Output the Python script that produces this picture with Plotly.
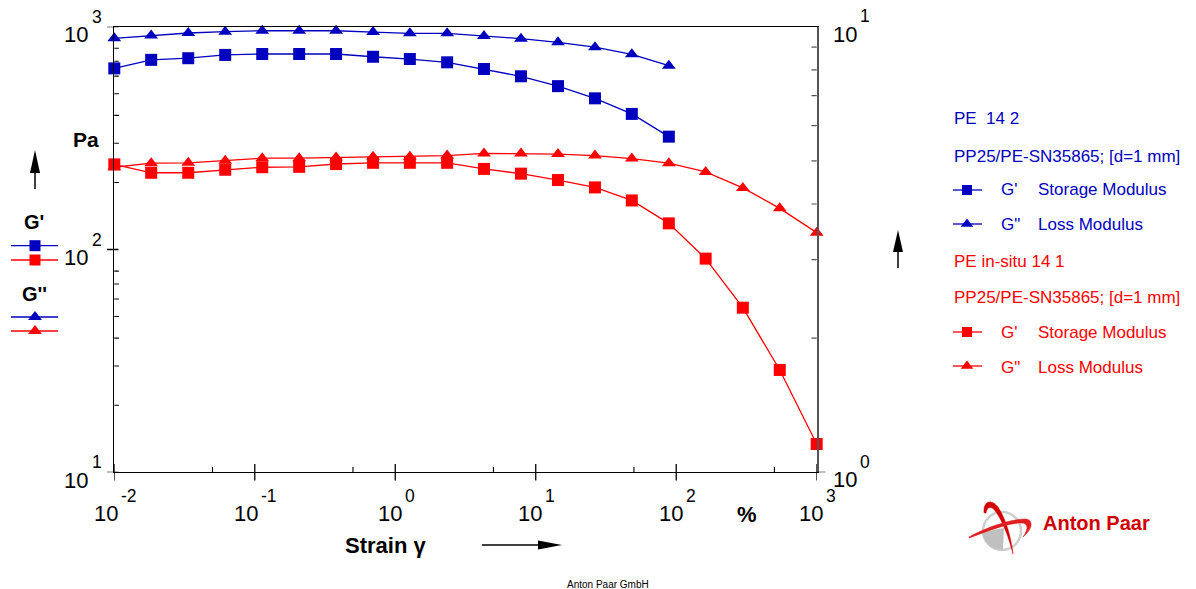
import math
import plotly.graph_objects as go

# ---------------- data ----------------
strain = [0.01, 0.0183, 0.0336, 0.0616, 0.113, 0.207, 0.379, 0.695, 1.27, 2.34,
          4.28, 7.85, 14.4, 26.4, 48.3, 88.6, 162, 298, 546, 1000]
blue_storage = [650, 710, 722, 747, 754, 754, 754, 733, 716, 692, 646, 599, 541, 477, 406, 321]
blue_loss = [887, 912, 937, 950, 959, 959, 959, 946, 934, 934, 908, 884, 851, 809, 752, 668]
red_storage = [241, 221, 221, 228, 234, 235, 242, 245, 245, 245, 230, 219, 205, 190, 166,
               131, 91, 54.8, 28.8, 13.4]
red_loss = [234, 244, 245, 250, 257, 257, 259, 261, 261, 264, 270, 270, 268, 264, 256,
            244, 223, 189, 153, 119]

x_decades = [-2, -1, 0, 1, 2, 3]
y_decades = [1, 2, 3]
y2_decades = [0, 1]
x_major = [0.01, 0.1, 1, 10, 100, 1000]
x_minor = [0.05, 0.5, 5, 50, 500]
y_major = [10, 100, 1000]
y_minor = [20, 30, 40, 50, 60, 70, 80, 200, 300, 400, 500, 600, 700, 800]
y2_major = [1]
y2_minor = [2, 3, 4, 5, 6, 7, 8, 9]

BLUE = "#0000bf"
RED = "#ff0000"
FONT = "Liberation Sans, Arial, sans-serif"
W, H = 1196, 589

def px(x):
    return x / W

def py(y):
    return 1 - y / H

L, R, T, B = 114.3, 816.7, 26.7, 472.3

fig = go.Figure()

def series(y, color, symbol, size, name):
    fig.add_trace(go.Scatter(
        x=strain[:len(y)], y=y, mode="lines+markers", name=name,
        line=dict(color=color, width=1.3),
        marker=dict(symbol=symbol, size=size, color=color, line=dict(width=0)),
        cliponaxis=False, showlegend=False))

series(red_loss, RED, "triangle-up", 12, "PE in-situ G''")
series(red_storage, RED, "square", 12, "PE in-situ G'")
series(blue_loss, BLUE, "triangle-up", 12, "PE G''")
series(blue_storage, BLUE, "square", 12, "PE G'")

# dummy trace so the right axis exists
fig.add_trace(go.Scatter(x=[None], y=[None], xaxis="x", yaxis="y2",
                         showlegend=False, hoverinfo="skip"))

# ---------- legend keys on a full-figure decoration axis ----------
def key(xc, yc, x0, x1, color, symbol, size):
    fig.add_trace(go.Scatter(x=[x0, x1], y=[yc, yc], mode="lines", xaxis="x3", yaxis="y3",
                             line=dict(color=color, width=1.3), showlegend=False, hoverinfo="skip"))
    fig.add_trace(go.Scatter(x=[xc], y=[yc], mode="markers", xaxis="x3", yaxis="y3",
                             marker=dict(symbol=symbol, size=size, color=color, line=dict(width=0)),
                             showlegend=False, hoverinfo="skip", cliponaxis=False))

key(35, 245.7, 11, 58, BLUE, "square", 11)
key(35, 260, 11, 58, RED, "square", 11)
key(35, 317, 11, 58, BLUE, "triangle-up", 12)
key(35, 331, 11, 58, RED, "triangle-up", 12)

key(967, 190, 953, 982, BLUE, "square", 10)
key(967, 224, 953, 982, BLUE, "triangle-up", 11)
key(967, 332, 953, 982, RED, "square", 10)
key(967, 366, 953, 982, RED, "triangle-up", 11)

ann = []

def text(x, y, s, size, color="black", bold=False, xanchor="left", xref="paper", yref="paper",
         xshift=0, yshift=0, family=FONT):
    if bold:
        s = "<b>" + s + "</b>"
    ann.append(dict(x=x, y=y, xref=xref, yref=yref, text=s, showarrow=False,
                    xanchor=xanchor, yanchor="middle", xshift=xshift, yshift=yshift,
                    borderpad=0,
                    font=dict(size=size, color=color, family=family)))

# ---------- tick labels ----------
BASE = 22
EXP = 17.5
for d in x_decades:
    e = str(d)
    wexp = 9.7 * len(e.replace("-", "")) + (6 if d < 0 else 0)
    wtot = 24.5 + 3 + wexp
    text(d, py(513), "10", BASE, xref="x", xanchor="left", xshift=-wtot / 2)
    text(d, py(495.5), e, EXP, xref="x", xanchor="left", xshift=-wtot / 2 + 27)

for d in y_decades:
    text(px(89), d, "10", BASE, yref="y", xanchor="right", yshift=-8)
    text(px(91), d, str(d), EXP, yref="y", xanchor="left", yshift=10)

for d in y2_decades:
    text(px(832), d, "10", BASE, yref="y2", xanchor="left", yshift=-7.5)
    text(px(858.5), d, str(d), EXP, yref="y2", xanchor="left", yshift=10.5)

# ---------- axis titles / labels ----------
text(px(86), py(139), "Pa", 21, bold=True, xanchor="center")
text(px(34), py(222), "G'", 20, bold=True, xanchor="center")
text(px(34), py(294), "G''", 20, bold=True, xanchor="center")
text(px(344), py(545), "Strain γ", 22, bold=True, xanchor="left")
text(px(747), py(514), "%", 22, bold=True, xanchor="center")

# ---------- right legend ----------
LS = 17
text(px(953), py(118), "PE  14 2", LS, BLUE)
text(px(953), py(156), "PP25/PE-SN35865; [d=1 mm]", LS, BLUE)
text(px(1000), py(190), "G'", LS, BLUE)
text(px(1037), py(190), "Storage Modulus", LS, BLUE)
text(px(1000), py(225), "G\"", LS, BLUE)
text(px(1037), py(225), "Loss Modulus", LS, BLUE)
text(px(953), py(261), "PE in-situ 14 1", LS, RED)
text(px(953), py(297), "PP25/PE-SN35865; [d=1 mm]", LS, RED)
text(px(1000), py(332), "G'", LS, RED)
text(px(1037), py(332), "Storage Modulus", LS, RED)
text(px(1000), py(367), "G\"", LS, RED)
text(px(1037), py(367), "Loss Modulus", LS, RED)

# ---------- logo text and footer ----------
text(px(1042), py(523), "Anton Paar", 20, "#d00000", bold=True)
text(px(608), py(584), "Anton Paar GmbH", 10, xanchor="center")

# ---------- shapes ----------
shapes = []

def line(x0, y0, x1, y1, color="black", width=1.5, xref="x3", yref="y3"):
    shapes.append(dict(type="line", xref=xref, yref=yref, x0=x0, y0=y0, x1=x1, y1=y1,
                       line=dict(color=color, width=width)))

def path(d, fill, color=None, width=0):
    shapes.append(dict(type="path", xref="x3", yref="y3", path=d, fillcolor=fill,
                       line=dict(color=color or fill, width=width)))

# axis ticks, placed through the axes' own scales
for v in x_major:
    line(v, py(464), v, py(480.5), width=1.3, xref="x", yref="paper")
for v in x_minor:
    line(v, py(467), v, py(472.3), width=1.1, xref="x", yref="paper")
for v in y_major:
    line(px(107), v, px(118.5), v, width=1.3, xref="paper", yref="y")
for v in y_minor:
    line(px(114.3), v, px(118.8), v, width=1.1, xref="paper", yref="y")
for v in y2_major:
    line(px(816.7), v, px(825.5), v, width=1.3, xref="paper", yref="y2")
for v in y2_minor:
    line(px(811.5), v, px(816.7), v, color="#555555", width=1.2, xref="paper", yref="y2")

# arrows
line(35, 189, 35, 168)
path("M 30,173 L 40,173 L 35,150 Z", "black")
line(898, 268, 898, 248)
path("M 893,252 L 903,252 L 898,230 Z", "black")
line(482, 545, 545, 545)
path("M 538,540.5 L 538,549.5 L 562,545 Z", "black")

# logo
shapes.append(dict(type="circle", xref="x3", yref="y3", x0=983, y0=512, x1=1021, y1=550,
                   line=dict(color="#cfcfcf", width=2.5)))
path("M 1004,528 L 983,532 C 983,542 991,550 1003,550 Z", "#c0c0c0")
path("M 984,513 C 983,500 992,499 998,507 C 1006,519 1011,537 1013,554 "
     "C 1009,538 1003,522 996,512 C 992,506 987,506 986,513 Z", "#d40000", width=0.5)
path("M 969,537 C 985,528 1010,519 1025,519 C 1033,519 1034,528 1023,537 "
     "C 1029,528 1028,523 1021,523 C 1008,523 988,531 969,538 Z", "#e02020", width=0.5)

common = dict(showgrid=False, zeroline=False, showticklabels=False, ticks="")

fig.update_layout(
    width=W, height=H,
    margin=dict(l=0, r=0, t=0, b=0),
    paper_bgcolor="white", plot_bgcolor="rgba(0,0,0,0)",
    font=dict(family=FONT, color="black"),
    showlegend=False,
    annotations=ann,
    shapes=shapes,
    xaxis=dict(
        type="log", range=[-2, 3], domain=[px(L), px(R)], anchor="y", **common,
        showline=True, linecolor="black", linewidth=1.3, mirror=True,
    ),
    yaxis=dict(
        type="log", range=[1, 3], domain=[py(B), py(T)], anchor="x", **common,
        showline=True, linecolor="black", linewidth=1.3,
    ),
    yaxis2=dict(
        type="log", range=[0, 1], overlaying="y", side="right", anchor="x", **common,
        showline=True, linecolor="#555555", linewidth=2,
    ),
    xaxis3=dict(domain=[0, 1], range=[0, W], anchor="y3", visible=False, fixedrange=True),
    yaxis3=dict(domain=[0, 1], range=[H, 0], anchor="x3", visible=False, fixedrange=True),
)

fig.write_html("out.html")
